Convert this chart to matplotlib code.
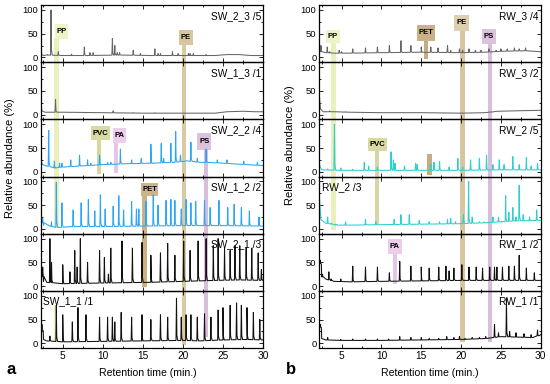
import numpy as np
import matplotlib.pyplot as plt
from matplotlib.patches import Rectangle
from matplotlib.ticker import MultipleLocator
from matplotlib.transforms import blended_transform_factory

plt.rcParams['font.family'] = ['Liberation Sans', 'DejaVu Sans']

# ---- data: baseline knots (time, %) and peak apexes (time, %)

sw23_base = [(2.25, 8), (2.6, 4), (3, 5), (5, 4), (8, 4), (12, 5), (16, 4), (20, 4), (24, 4),
             (25.5, 6), (27, 6), (28.5, 4), (30, 4)]
sw23_peaks = [(3.1, 6), (3.54, 100), (4.45, 12), (6.1, 7), (7.7, 22), (8.4, 10), (8.8, 10),
              (11.2, 40), (11.5, 25), (11.8, 10), (12.1, 10), (13.8, 15), (14.7, 8), (16.5, 18),
              (16.9, 8), (17.2, 8), (18.7, 12), (19.4, 8), (20.7, 8), (20.9, 8), (21.3, 8), (22.9, 6)]

sw13_base = [(2.25, 22), (2.4, 8), (2.8, 5), (5, 5), (10, 4), (15, 3), (20, 3), (24, 3),
             (25.5, 6), (27.5, 7), (29, 6), (30, 6)]
sw13_peaks = [(4.1, 32), (6.5, 5), (8.0, 4), (11.3, 8), (13.8, 4), (16.5, 4)]

sw22_base = [(2.25, 25), (2.5, 15), (3.0, 12), (4.0, 8), (5, 10), (7, 12), (10, 15), (13, 17),
             (16, 18), (19, 20), (20.5, 23), (22, 20), (24, 19), (26, 17), (28, 15), (30, 13)]
sw22_peaks = [(3.25, 87), (3.96, 22), (4.6, 18), (4.9, 18), (6.0, 25), (7.1, 35), (8.1, 25),
              (8.5, 18), (9.6, 35), (10.6, 20), (11.0, 20), (12.2, 48), (13.6, 25), (14.8, 28),
              (16.0, 58), (17.3, 60), (17.6, 28), (18.5, 60), (19.1, 85), (19.7, 35), (21.0, 62),
              (21.8, 28), (22.9, 48), (24.3, 25), (25.5, 25), (27.6, 22), (29.3, 20)]

sw12_base = [(2.25, 25), (2.6, 8), (3.5, 5), (4.5, 3), (6, 5), (10, 5), (15, 6), (20, 7),
             (25, 7), (30, 6)]
sw12_peaks = [(2.5, 22), (3.6, 15), (4.2, 98), (4.9, 55), (6.3, 40), (7.3, 55), (8.2, 62),
              (9.0, 38), (9.7, 72), (10.3, 42), (11.3, 48), (12.0, 70), (12.6, 40), (13.6, 58),
              (14.2, 42), (14.5, 42), (15.4, 58), (16.3, 72), (16.9, 50), (17.9, 60), (18.5, 62),
              (19.0, 60), (19.8, 42), (20.4, 62), (21.0, 55), (21.6, 58), (22.7, 60), (23.4, 45),
              (24.5, 60), (25.6, 45), (26.4, 52), (27.3, 45), (28.3, 38), (29.5, 25)]

sw21_base = [(2.25, 45), (2.6, 10), (3, 8), (5, 5), (8, 6), (12, 7), (16, 8), (20, 10),
             (24, 12), (27, 13), (30, 12)]
sw21_peaks = [(2.5, 40), (3.4, 100), (3.6, 50), (5.0, 45), (5.9, 30), (6.5, 75), (6.8, 40),
              (7.2, 100), (8.1, 50), (9.6, 75), (10.2, 60), (10.7, 25), (11.0, 80), (12.4, 95),
              (13.7, 80), (14.9, 92), (16.0, 65), (17.2, 70), (18.1, 90), (19.0, 65), (20.1, 95),
              (20.9, 75), (21.9, 95), (22.9, 100), (23.8, 85), (24.4, 100), (25.2, 80), (25.9, 75),
              (26.5, 85), (27.1, 85), (27.9, 80), (28.6, 80), (29.4, 70), (29.8, 35)]

sw11_base = [(2.25, 40), (2.6, 8), (3, 5), (5, 3), (10, 4), (15, 5), (20, 6), (22, 5),
             (25, 7), (28, 8), (30, 7)]
sw11_peaks = [(2.4, 40), (3.4, 15), (4.2, 80), (5.0, 60), (6.2, 45), (6.9, 75), (7.9, 60),
              (9.6, 55), (10.6, 55), (11.2, 55), (11.5, 45), (12.3, 65), (13.6, 55), (14.9, 60),
              (16.0, 50), (17.2, 60), (18.1, 55), (19.2, 95), (19.8, 55), (20.4, 60), (21.0, 60),
              (21.8, 55), (22.7, 62), (23.5, 55), (24.4, 70), (25.0, 75), (25.9, 80), (26.7, 85),
              (27.3, 80), (28.0, 75), (28.8, 65), (29.6, 50)]

rw34_base = [(2.2, 30), (2.4, 12), (3, 10), (4, 9), (6, 9), (10, 10), (15, 11), (20, 10),
             (23, 11), (25, 13), (28, 14), (30, 12)]
rw34_peaks = [(2.4, 25), (3.2, 22), (3.5, 12), (4.7, 15), (5.0, 12), (6.4, 18), (8.0, 20),
              (9.5, 22), (11.0, 25), (12.45, 35), (13.7, 25), (15.0, 22), (16.2, 22), (17.1, 20),
              (18.3, 25), (18.7, 15), (19.8, 18), (20.2, 15), (21.0, 18), (21.8, 15), (22.5, 15),
              (23.5, 18), (24.4, 15), (25.0, 18), (25.8, 18), (26.7, 20), (27.3, 18), (28.1, 20)]

rw32_base = [(2.2, 40), (2.35, 12), (2.7, 6), (4, 6), (6, 5), (10, 4), (15, 4), (20, 3),
             (23, 4), (24.5, 7), (27, 8), (30, 9)]
rw32_peaks = [(3.5, 8), (4.2, 6), (5.5, 6), (23.7, 5)]

rw25_base = [(2.2, 15), (2.5, 4), (5, 3), (10, 3), (15, 3), (20, 3), (25, 4), (30, 4)]
rw25_peaks = [(3.25, 6), (4.1, 100), (4.9, 8), (6.4, 5), (7.85, 20), (8.4, 12), (9.5, 10),
              (11.2, 42), (11.5, 25), (11.7, 18), (12.9, 12), (14.3, 18), (14.5, 15), (16.2, 15),
              (16.6, 20), (17.3, 22), (18.5, 10), (19.6, 28), (20.2, 10), (21.2, 25), (22.3, 28),
              (23.2, 35), (24.0, 15), (24.8, 25), (25.4, 15), (26.5, 32), (27.3, 15), (28.2, 30),
              (28.8, 12), (29.6, 18)]

rw23_base = [(2.2, 70), (2.4, 20), (3, 12), (4.5, 8), (6, 8), (10, 9), (15, 10), (20, 11),
             (23, 13), (25, 15), (27, 17), (30, 18)]
rw23_peaks = [(3.25, 25), (3.7, 12), (4.3, 10), (5.5, 15), (8.0, 20), (9.3, 15), (11.6, 20),
              (12.45, 30), (13.5, 30), (14.75, 18), (16.0, 15), (17.3, 15), (18.3, 20), (18.7, 22),
              (19.3, 15), (20.3, 30), (20.95, 100), (21.4, 25), (22.3, 15), (22.9, 15), (24.0, 25),
              (24.7, 25), (25.6, 70), (26.0, 35), (26.5, 45), (26.9, 25), (27.3, 92), (27.8, 30),
              (28.6, 25), (29.5, 40)]

rw12_base = [(2.2, 60), (2.5, 20), (3, 15), (4, 10), (6, 9), (10, 10), (15, 11), (20, 12),
             (25, 12), (30, 12)]
rw12_peaks = [(2.3, 55), (2.6, 25), (3.4, 30), (3.7, 15), (4.9, 15), (6.4, 42), (8.0, 40),
              (9.5, 40), (11.0, 28), (12.3, 52), (13.7, 42), (15.0, 40), (16.0, 38), (17.2, 40),
              (18.1, 42), (18.5, 32), (19.1, 38), (20.1, 45), (21.0, 40), (21.9, 40), (22.7, 38),
              (23.6, 40), (24.2, 40), (24.5, 40), (25.2, 40), (26.0, 42), (26.7, 42), (27.3, 65),
              (28.2, 38), (29.2, 28)]

rw11_base = [(2.2, 45), (2.5, 10), (3, 7), (5, 6), (10, 6), (15, 7), (20, 8), (23, 10),
             (25, 14), (27, 13), (29, 12), (30, 18)]
rw11_peaks = [(2.3, 40), (3.25, 12), (4.9, 8), (6.4, 9), (8.0, 9), (9.5, 9), (10.9, 9),
              (12.3, 14), (13.7, 12), (15.0, 12), (16.0, 10), (17.2, 10), (18.2, 14), (19.1, 12),
              (19.8, 14), (20.5, 10), (21.4, 12), (22.3, 12), (23.1, 14), (24.2, 40), (24.7, 22),
              (25.7, 95), (26.1, 25), (26.9, 22), (27.9, 20), (28.8, 18), (29.6, 28)]

left_names = ['SW_2_3 /5', 'SW_1_3 /1', 'SW_2_2 /4', 'SW_1_2 /2', 'SW_2_1 /3', 'SW_1_1 /1']
right_names = ['RW_3 /4', 'RW_3 /2', 'RW_2 /5', 'RW_2 /3', 'RW_1 /2', 'RW_1 /1']
left_data = [(sw23_base, sw23_peaks), (sw13_base, sw13_peaks), (sw22_base, sw22_peaks),
             (sw12_base, sw12_peaks), (sw21_base, sw21_peaks), (sw11_base, sw11_peaks)]
right_data = [(rw34_base, rw34_peaks), (rw32_base, rw32_peaks), (rw25_base, rw25_peaks),
              (rw23_base, rw23_peaks), (rw12_base, rw12_peaks), (rw11_base, rw11_peaks)]

gray, blue, cyan, black = '#666666', '#2ba6f5', '#2bcfcf', '#111111'
line_colors = [gray, gray, blue, blue, black, black]
right_colors = [gray, gray, cyan, cyan, black, black]


def trace(base, peaks):
    bt, by = zip(*base)
    pts = list(base)
    for t, h in peaks:
        b = np.interp(t, bt, by)
        pts += [(t - 0.06, b), (t, h), (t + 0.05, b + (h - b) * 0.12), (t + 0.16, b)]
    pts.sort()
    return zip(*pts)


W, H = 550, 384
fig = plt.figure(figsize=(5.5, 3.84), dpi=100)

top, bot = 1 - 5 / H, 1 - 348 / H
ph = (top - bot) / 6


def column(x0, x1, xlim, names, data, colors):
    axes = []
    for i in range(6):
        ax = fig.add_axes([x0 / W, bot + (5 - i) * ph, (x1 - x0) / W, ph])
        ax.set_facecolor('none')
        t, y = trace(*data[i])
        ax.plot(t, y, color=colors[i], lw=0.75)
        ax.set_xlim(*xlim)
        ax.set_ylim(-10, 110.5)
        ax.set_yticks([0, 50, 100])
        ax.xaxis.set_major_locator(MultipleLocator(5))
        ax.xaxis.set_minor_locator(MultipleLocator(2.5))
        ax.yaxis.set_minor_locator(MultipleLocator(25))
        ax.tick_params(which='both', direction='in', top=True, right=True, width=0.6)
        ax.tick_params(which='major', length=3, pad=2)
        ax.tick_params(which='minor', length=1.6)
        ax.tick_params(axis='y', labelsize=6.8)
        ax.tick_params(axis='x', labelsize=7.3)
        if i < 5:
            ax.tick_params(labelbottom=False)
        for s in ax.spines.values():
            s.set_linewidth(0.9)
        name = names[i]
        if name in ('SW_1_1 /1', 'RW_2 /3'):
            ax.text(0.012, 0.9, name, transform=ax.transAxes, ha='left', va='top', fontsize=7.3)
        else:
            ax.text(0.99, 0.9, name, transform=ax.transAxes, ha='right', va='top', fontsize=7.3)
        axes.append(ax)
    return axes


lax = column(40.7, 263, (2.25, 30), left_names, left_data, line_colors)
rax = column(319.3, 540.7, (2.2, 30), right_names, right_data, right_colors)


def band(ax, t, w, y0, y1, color):
    tr = blended_transform_factory(ax.transData, fig.transFigure)
    fig.add_artist(Rectangle((t - w / 2, 1 - y1 / H), w, (y1 - y0) / H, transform=tr,
                             facecolor=color, lw=0, zorder=-1))


def marker(ax, label, bc, bw, by0, by1, color, bt, bwid, bbot, bcolor):
    band(ax, bt, bwid, by1 - 1, bbot, bcolor)
    band(ax, bc, bw, by0, by1, color)
    tr = blended_transform_factory(ax.transData, fig.transFigure)
    fig.text(bc, 1 - (by0 + by1) / 2 / H, label, transform=tr, ha='center', va='center',
             fontsize=5.5, fontweight='bold')


# polymer marker bands, panel a
marker(lax[0], 'PP', 4.85, 1.6, 24, 39, '#eef4c6', 4.22, 0.6, 228, '#e9efbd')
marker(lax[0], 'PE', 20.4, 1.65, 30, 45, '#d6c7a0', 20.15, 0.55, 345, '#d9caa4')
marker(lax[0], 'PVC', 9.72, 2.3, 126, 140, '#d9d9a6', 9.57, 0.5, 174, '#d6d6a0')
marker(lax[0], 'PA', 12.1, 1.65, 128, 143, '#eccdec', 11.65, 0.5, 173, '#e6c6e6')
marker(lax[0], 'PS', 22.67, 1.75, 133, 150, '#dcc2dc', 22.85, 0.45, 337, '#dbbcdb')
marker(lax[0], 'PET', 15.86, 2.1, 183, 196, '#cbb68b', 15.2, 0.55, 287, '#c9b284')
band(lax[0], 4.1, 0.45, 305, 342, '#eef2bc')

# polymer marker bands, panel b
marker(rax[0], 'PP', 3.92, 1.75, 30, 43, '#eef4c6', 3.98, 0.6, 230, '#e9efbd')
marker(rax[0], 'PET', 15.6, 2.3, 25, 41, '#c9b28a', 15.58, 0.5, 59, '#c6ad80')
marker(rax[0], 'PE', 20.06, 1.8, 15, 31, '#ddd0b0', 20.17, 0.6, 342, '#d6c69f')
marker(rax[0], 'PS', 23.5, 1.8, 29, 44, '#dcc2dc', 23.6, 0.45, 342, '#dbbcdb')
marker(rax[0], 'PVC', 9.47, 2.4, 138, 151, '#d9d9a6', 9.47, 0.55, 224, '#d6d6a0')
marker(rax[0], 'PA', 11.7, 1.8, 239, 254, '#eccdec', 11.67, 0.5, 284, '#e6c6e6')
band(rax[0], 16.02, 0.55, 154, 175, '#c6ad80')

# axis titles and panel letters
fig.text(10 / W, 1 - 158 / H, 'Relative abundance (%)', rotation=90, ha='center', va='center', fontsize=8)
fig.text(290 / W, 1 - 145 / H, 'Relative abundance (%)', rotation=90, ha='center', va='center', fontsize=8)
fig.text(148 / W, 1 - 373 / H, 'Retention time (min.)', ha='center', va='center', fontsize=7.6)
fig.text(430 / W, 1 - 373 / H, 'Retention time (min.)', ha='center', va='center', fontsize=7.6)
fig.text(11 / W, 1 - 370 / H, 'a', ha='center', va='center', fontsize=12, fontweight='bold')
fig.text(291 / W, 1 - 369 / H, 'b', ha='center', va='center', fontsize=12, fontweight='bold')

fig.savefig('out.png', dpi=100)
